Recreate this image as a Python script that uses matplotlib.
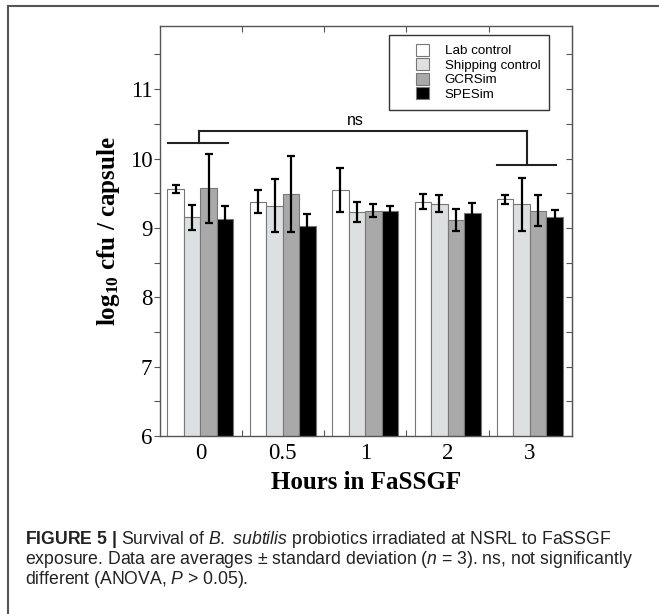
import numpy as np
import matplotlib
matplotlib.use('Agg')
import matplotlib.pyplot as plt
from matplotlib.patches import Patch, Rectangle
from matplotlib.lines import Line2D
from matplotlib.legend_handler import HandlerPatch

# ---- data ----
hours = ['0', '0.5', '1', '2', '3']
series = ['Lab control', 'Shipping control', 'GCRSim', 'SPESim']
lab_mean = [9.56, 9.38, 9.55, 9.38, 9.41]
lab_sd = [0.06, 0.16, 0.32, 0.11, 0.07]
ship_mean = [9.15, 9.32, 9.23, 9.35, 9.34]
ship_sd = [0.18, 0.38, 0.15, 0.12, 0.38]
gcr_mean = [9.57, 9.49, 9.25, 9.11, 9.25]
gcr_sd = [0.50, 0.55, 0.10, 0.16, 0.22]
spe_mean = [9.13, 9.03, 9.24, 9.22, 9.16]
spe_sd = [0.18, 0.17, 0.07, 0.14, 0.10]

colors = ['white', '#dde0e1', '#a9a9a9', 'black']

plt.rcParams['mathtext.fontset'] = 'custom'
plt.rcParams['mathtext.rm'] = 'Liberation Sans'
plt.rcParams['mathtext.it'] = 'Liberation Sans:italic'
plt.rcParams['mathtext.sf'] = 'Liberation Sans:bold'
plt.rcParams['mathtext.bf'] = 'Liberation Serif:bold'

W, H = 659, 614
fig = plt.figure(figsize=(W / 100, H / 100), dpi=100)
ax = fig.add_axes([160 / W, 1 - 436 / H, 412 / W, 410 / H])

x = np.arange(len(hours))
means = [lab_mean, ship_mean, gcr_mean, spe_mean]
sds = [lab_sd, ship_sd, gcr_sd, spe_sd]
offs = [-0.3, -0.1, 0.1, 0.3]
for m, s, c, o, lab in zip(means, sds, colors, offs, series):
    ax.bar(x + o, m, 0.2, color=c, edgecolor='#777777', linewidth=0.8, label=lab,
           yerr=s, error_kw=dict(ecolor='black', elinewidth=1.6, capsize=2.8, capthick=1.6))

ax.set_xlim(-0.49, 4.51)
ax.set_ylim(6, 11.91)

# x: boundary ticks (no labels) + centred labels
ax.set_xticks([0.5, 1.5, 2.5, 3.5])
ax.set_xticklabels([])
ax.set_xticks(x, labels=hours, minor=True)
ax.tick_params(axis='x', which='major', direction='in', top=True, length=4, width=0.8, color='#555555')
ax.tick_params(axis='x', which='minor', length=0, pad=5)

ax.set_yticks(np.arange(6, 12, 1))
ax.set_yticks(np.arange(6.5, 12, 1), minor=True)
ax.tick_params(axis='y', which='both', direction='out', length=4, width=0.8, color='#555555', pad=1.5)
sec = ax.secondary_yaxis('right')
sec.set_yticks(np.arange(6, 12, 1))
sec.set_yticks(np.arange(6.5, 12, 1), minor=True)
sec.tick_params(axis='y', which='both', direction='in', length=4, width=0.8, color='#555555', labelright=False)
sec.spines['right'].set_color('#555555')

for lbl in ax.get_xticklabels(minor=True) + ax.get_yticklabels():
    lbl.set_fontfamily('Liberation Serif')
    lbl.set_fontsize(16.5)

for sp in ax.spines.values():
    sp.set_color('#555555')
    sp.set_linewidth(1.0)

ax.set_xlabel('Hours in FaSSGF', fontfamily='Liberation Serif', fontweight='bold', fontsize=18, labelpad=5)
ax.set_ylabel(r'$\mathbf{log_{10}}$ cfu / capsule', fontfamily='Liberation Serif', fontweight='bold',
              fontsize=18)
ax.yaxis.set_label_coords(-0.092, 0.5)

# significance bracket
bk = dict(color='#222222', lw=1.5, clip_on=False)
ax.plot([-0.39, 0.34], [10.22, 10.22], **bk)
ax.plot([-0.02, -0.02], [10.22, 10.40], **bk)
ax.plot([-0.02, 3.96], [10.40, 10.40], **bk)
ax.plot([3.96, 3.96], [10.40, 9.91], **bk)
ax.plot([3.60, 4.31], [9.91, 9.91], **bk)
ax.text(1.88, 10.44, 'ns', ha='center', va='bottom', fontsize=11.5, fontfamily='Liberation Sans')


# legend: square swatch at the right of the handle box
def swatch(legend, orig_handle, xdescent, ydescent, width, height, fontsize):
    side = 0.92 * fontsize
    return Rectangle((-xdescent + width - side, -ydescent), side, height)


handles = [Patch(facecolor=c, edgecolor='#777777', linewidth=0.8) for c in colors]
leg = ax.legend(handles, series, loc='upper right', bbox_to_anchor=(0.944, 0.978), borderaxespad=0,
                fancybox=False, edgecolor='#333333', framealpha=1,
                prop={'family': 'Liberation Sans', 'size': 9.6},
                handlelength=2.3, handleheight=1.0, handletextpad=1.2, labelspacing=0.08, borderpad=0.65,
                handler_map={Patch: HandlerPatch(patch_func=swatch)})
leg.get_frame().set_linewidth(1.0)

# caption frame (top & left edges)
fig.add_artist(Line2D([8 / W, 1], [1 - 6 / H, 1 - 6 / H], color='#555555', lw=1.5))
fig.add_artist(Line2D([8 / W, 8 / W], [0, 1 - 6 / H], color='#555555', lw=1.5))

cap = [r'$\mathsf{FIGURE\ 5\ |}$ Survival of $\mathit{B.}$ $\mathit{subtilis}$ probiotics irradiated at NSRL to FaSSGF',
       r'exposure. Data are averages $\pm$ standard deviation ($\mathit{n}$ = 3). ns, not significantly',
       r'different (ANOVA, $\mathit{P}$ > 0.05).']
for i, line in enumerate(cap):
    fig.text(25 / W, 1 - (539 + 20.5 * i) / H, line, ha='left', va='center',
             fontsize=12.7, fontfamily='Liberation Sans', color='#222222')

fig.savefig('out.png', dpi=100)
